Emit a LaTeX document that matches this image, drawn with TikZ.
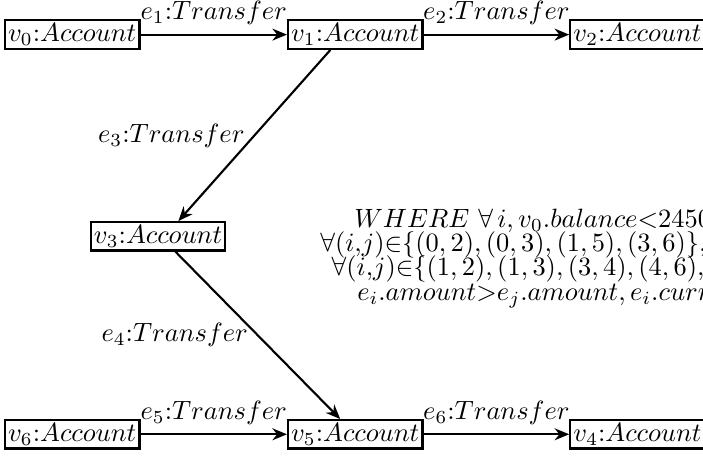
\documentclass[tikz,border=0pt]{standalone}
\usepackage{tikz}
\usetikzlibrary{arrows.meta}

\begin{document}
\begin{tikzpicture}[
  acct/.style={draw, thick, inner sep=1.2pt},
  flow/.style={-{Stealth[length=5.5pt,width=4.5pt]}, thick},
  cond/.style={anchor=base west, inner sep=0}]
  \useasboundingbox (0,0) rectangle (9.34,6.09);
  \clip (0,0) rectangle (9.34,6.09);
  % accounts
  \node[acct] (v0) at (0.96,5.63) {$v_0{:}Account$};
  \node[acct] (v1) at (4.72,5.63) {$v_1{:}Account$};
  \node[acct] (v2) at (8.47,5.63) {$v_2{:}Account$};
  \node[acct] (v3) at (2.10,2.95) {$v_3{:}Account$};
  \node[acct] (v6) at (0.96,0.32) {$v_6{:}Account$};
  \node[acct] (v5) at (4.72,0.32) {$v_5{:}Account$};
  \node[acct] (v4) at (8.47,0.32) {$v_4{:}Account$};
  % transfers
  \draw[flow] (v0) -- node[above] {$e_1{:}Transfer$} (v1);
  \draw[flow] (v1) -- node[above] {$e_2{:}Transfer$} (v2);
  \draw[flow] ([xshift=-0.33cm]v1.south) -- node[left] {$e_3{:}Transfer$} ([xshift=0.27cm]v3.north);
  \draw[flow] ([xshift=0.23cm]v3.south) -- node[left] {$e_4{:}Transfer$} ([xshift=-0.2cm]v5.north);
  \draw[flow] (v6) -- node[above] {$e_5{:}Transfer$} (v5);
  \draw[flow] (v5) -- node[above] {$e_6{:}Transfer$} (v4);
  % where clause
  \node[cond] (w1) at (4.70,3.07) {$WHERE\ \forall\, i, v_0.balance{<}2450$};
  \node[cond] (w2) at (4.25,2.75) {$\forall(i{,}j){\in}\{(0,2),(0,3),(1,5),(3,6)\}$,};
  \node[cond] (w3) at (4.40,2.43) {$\forall(i{,}j){\in}\{(1,2),(1,3),(3,4),(4,6),(5$};
  \node[cond] (w4) at (4.74,2.10) {$e_i.amount{>}e_j.amount, e_i.curr$};
\end{tikzpicture}
\end{document}
